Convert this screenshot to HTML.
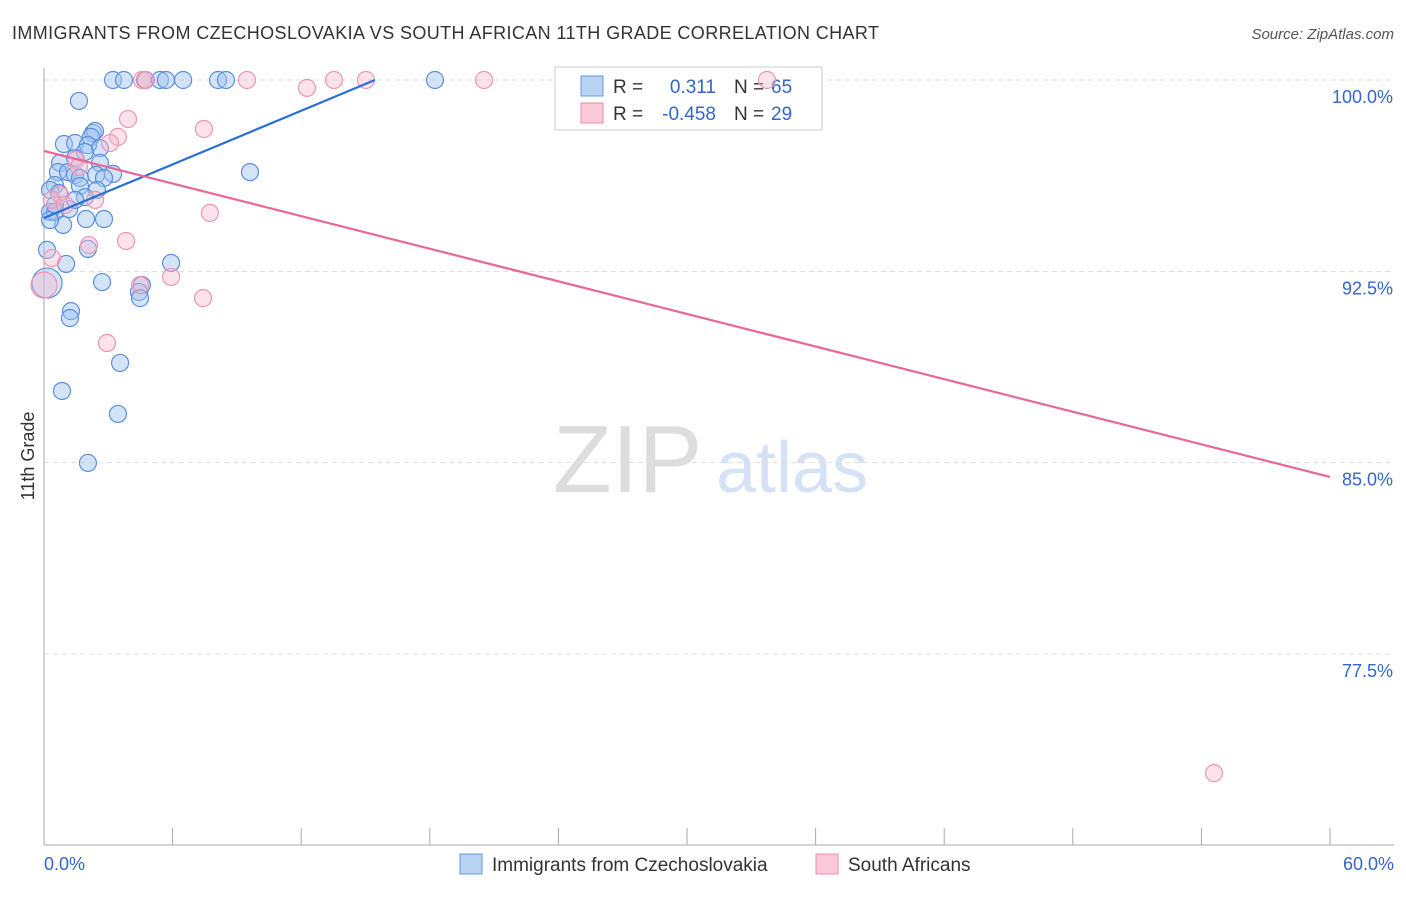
<!DOCTYPE html>
<html><head><meta charset="utf-8"><style>
body{margin:0;background:#fff;font-family:"Liberation Sans",sans-serif;}
svg text{font-family:"Liberation Sans",sans-serif;}
</style></head><body>
<svg id="c" width="1406" height="892">
<text x="12" y="39" font-size="18" fill="#333" textLength="867">IMMIGRANTS FROM CZECHOSLOVAKIA VS SOUTH AFRICAN 11TH GRADE CORRELATION CHART</text>
<text x="1394" y="39" font-size="15" fill="#555" text-anchor="end" font-style="italic">Source: ZipAtlas.com</text>
<text x="34" y="456" font-size="18" fill="#333" text-anchor="middle" transform="rotate(-90 34 456)">11th Grade</text>
<text x="553" y="492" font-size="96" fill="#ddd" font-family="Liberation Serif">ZIP</text>
<text x="716" y="492" font-size="72" fill="#d5e2f5">atlas</text>
<g id="grid"></g>
<g>
<rect x="555" y="67" width="267" height="63" fill="#fff" stroke="#ccc"/>
<rect x="581" y="76" width="22" height="20" fill="#b9d3f5" stroke="#6699dd"/>
<rect x="581" y="103" width="22" height="20" fill="#fbc9d8" stroke="#ee88aa"/>
<text x="613" y="93" font-size="19" fill="#333">R =</text><text x="716" y="93" font-size="19" fill="#3366cc" text-anchor="end">0.311</text>
<text x="734" y="93" font-size="19" fill="#333">N =</text><text x="771" y="93" font-size="19" fill="#3366cc">65</text>
<text x="613" y="120" font-size="19" fill="#333">R =</text><text x="716" y="120" font-size="19" fill="#3366cc" text-anchor="end">-0.458</text>
<text x="734" y="120" font-size="19" fill="#333">N =</text><text x="771" y="120" font-size="19" fill="#3366cc">29</text>
</g>
<g id="pts"></g><g id="lines"></g>
<g>
<rect x="460" y="854" width="22" height="20" fill="#b9d3f5" stroke="#6699dd"/>
<text x="492" y="871" font-size="19" fill="#333">Immigrants from Czechoslovakia</text>
<rect x="816" y="854" width="22" height="20" fill="#fbc9d8" stroke="#ee88aa"/>
<text x="848" y="871" font-size="19" fill="#333">South Africans</text>
</g>
</svg>
<script>
const yTicks=[100,92.5,85,77.5];
const xTickLabels=["0.0%","60.0%"];
const blueX=[3.22,3.73,4.71,5.41,5.69,6.49,8.12,8.49,18.24,1.63,0.93,1.45,2.29,2.38,2.19,2.05,2.61,1.91,0.75,1.45,2.61,0.65,1.12,1.45,1.68,2.43,3.22,2.80,9.61,0.51,0.28,1.68,2.47,0.70,1.91,0.28,0.51,1.17,1.96,2.80,0.89,0.28,0.14,2.05,1.03,5.93,2.71,4.57,4.43,4.48,1.26,1.21,3.55,0.84,3.45,2.05,0.14,0.51,1.45];
const blueY=[100,100,100,100,100,100,100,100,100,99.18,97.49,97.53,97.92,98.0,97.77,97.45,97.33,97.18,96.75,96.94,96.75,96.39,96.39,96.28,96.16,96.28,96.32,96.16,96.39,95.88,95.69,95.84,95.69,95.57,95.41,94.83,94.83,94.94,94.55,94.55,94.32,94.51,93.34,93.38,92.79,92.83,92.08,91.96,91.69,91.45,90.94,90.67,88.91,87.81,86.91,84.99,92.04,95.10,95.30];
const pinkX=[4.57,4.76,9.47,13.53,15.02,20.53,33.73,12.27,3.92,7.46,3.45,3.08,1.49,2.38,0.75,0.37,0.98,7.74,3.83,2.10,0.37,4.48,5.93,7.42,2.94,54.59,0.0,1.63];
const pinkY=[100,100,100,100,100,100,100,99.69,98.47,98.08,97.77,97.53,96.86,95.30,95.49,95.30,95.10,94.79,93.69,93.53,93.02,91.96,92.28,91.45,89.69,72.83,91.96,96.59];
const blueTrend=[[0,94.59],[15.44,100]];
const pinkTrend=[[0,97.22],[60,84.44]];
const X=v=>44+v/60*1286, Y=v=>80+(100-v)/7.5*191.33;
const NS="http://www.w3.org/2000/svg";
function mk(t,a,p){const e=document.createElementNS(NS,t);for(const k in a)e.setAttribute(k,a[k]);p.appendChild(e);return e;}
const g=document.getElementById('grid');
yTicks.forEach(v=>{
 const l=mk('line',{x1:44,x2:1394,y1:Y(v),y2:Y(v),stroke:'#ddd','stroke-dasharray':'5,4'},g);
 
 
 const t=mk('text',{x:1393,y:Y(v)+23,'font-size':18,fill:'#3366cc','text-anchor':'end'},g);t.textContent=v.toFixed(1)+'%';
 
 
});
mk('line',{x1:44,x2:44,y1:68,y2:845,stroke:'#aaa'},g);
mk('line',{x1:44,x2:1394,y1:845,y2:845,stroke:'#aaa'},g);
for(let i=0;i<=10;i++){const x=X(i*6);mk('line',{x1:x,x2:x,y1:828,y2:845,stroke:'#aaa'},g);}
[[0,'start',44],[1,'end',1394]].forEach(([i,a,x])=>{const t=mk('text',{x:x,y:870,'font-size':18,fill:'#3366cc','text-anchor':a},g);t.textContent=xTickLabels[i];
 
 });
const p=document.getElementById('pts');
blueX.forEach((x,i)=>{const c=mk('circle',{cx:X(x),cy:Y(blueY[i]),r:(i==56?15:8.5),fill:'rgba(160,195,240,0.45)',stroke:'#5b8fdc','stroke-width':1.2},p);
 
 });
pinkX.forEach((x,i)=>{const c=mk('circle',{cx:X(x),cy:Y(pinkY[i]),r:(i==26?13:8.5),fill:'rgba(248,185,205,0.4)',stroke:'#ef95b3','stroke-width':1.2},p);
 
 });
const L=document.getElementById('lines');
[[blueTrend,'#2a6fd6','trend-czechoslovakia'],[pinkTrend,'#e8679a','trend-south-african']].forEach(([t,c,n])=>{
 const l=mk('line',{x1:X(t[0][0]),y1:Y(t[0][1]),x2:X(t[1][0]),y2:Y(t[1][1]),stroke:c,'stroke-width':2.2},L);
 
 
});
</script>
</body></html>
